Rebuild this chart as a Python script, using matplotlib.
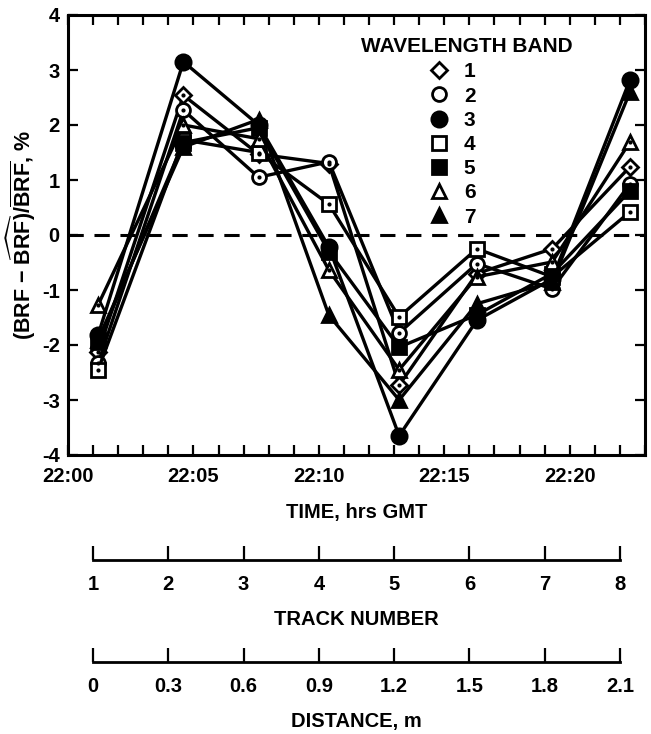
import matplotlib
matplotlib.use('Agg')
import matplotlib.pyplot as plt
from matplotlib.lines import Line2D
from matplotlib.ticker import FixedLocator, MultipleLocator

plt.rcParams['font.family'] = ['Liberation Sans', 'DejaVu Sans']
plt.rcParams['font.weight'] = 'bold'
plt.rcParams['axes.unicode_minus'] = False
plt.rcParams['mathtext.fontset'] = 'custom'
plt.rcParams['mathtext.rm'] = 'Liberation Sans:bold'
plt.rcParams['mathtext.bf'] = 'Liberation Sans:bold'
plt.rcParams['mathtext.it'] = 'Liberation Sans:bold'

# minutes after 22:00 at which each track was measured
times = [1.2, 4.6, 7.6, 10.4, 13.2, 16.3, 19.3, 22.4]

# (BRF - BRF^)/BRF, % per wavelength band
band1 = [-2.13, 2.54, 1.47, 1.30, -2.73, -0.70, -0.25, 1.24]
band2 = [-2.33, 2.27, 1.05, 1.33, -1.78, -0.52, -0.98, 0.93]
band3 = [-1.82, 3.15, 2.00, -0.22, -3.65, -1.55, -0.80, 2.82]
band4 = [-2.45, 1.73, 1.50, 0.56, -1.49, -0.25, -0.76, 0.42]
band5 = [-1.95, 1.68, 1.95, -0.30, -2.04, -1.45, -0.70, 0.80]
band6 = [-1.27, 2.00, 1.75, -0.64, -2.45, -0.76, -0.49, 1.69]
band7 = [-1.90, 1.60, 2.10, -1.46, -3.00, -1.25, -0.85, 2.60]

band_names = ['1', '2', '3', '4', '5', '6', '7']
time_ticks = [0, 5, 10, 15, 20]
time_labels = ['22:00', '22:05', '22:10', '22:15', '22:20']
track_pos = [1, 4, 7, 10, 13, 16, 19, 22]
track_labels = ['1', '2', '3', '4', '5', '6', '7', '8']
dist_labels = ['0', '0.3', '0.6', '0.9', '1.2', '1.5', '1.8', '2.1']

bands = [band1, band2, band3, band4, band5, band6, band7]
markers = ['D', 'o', 'o', 's', 's', '^', '^']
filled = [False, False, True, False, True, False, True]
sizes = [8.5, 10, 11, 10, 10, 10, 10]

W, H = 651, 734
fig = plt.figure(figsize=(W / 100, H / 100), dpi=100)
left, right = 68 / W, 645 / W
ax = fig.add_axes([left, 1 - 455 / H, right - left, 440 / H])

ax.axhline(0, color='k', lw=2.2, ls=(0, (5, 3.5)), zorder=1)

for vals, m, f, s in zip(bands, markers, filled, sizes):
    ax.plot(times, vals, color='k', lw=2.4, marker=m, ms=s,
            mfc='k' if f else 'white', mec='k', mew=2, zorder=2)
    if not f:
        # the open symbols carry a small centre dot in the original
        ax.plot(times, vals, ls='none', marker='o', ms=2, color='k', zorder=3)

ax.set_xlim(0, 23)
ax.set_ylim(-4, 4)
ax.xaxis.set_major_locator(FixedLocator(time_ticks))
ax.set_xticklabels(time_labels)
ax.xaxis.set_minor_locator(MultipleLocator(1))
ax.yaxis.set_major_locator(MultipleLocator(1))
ax.tick_params(which='both', direction='in', top=True, right=True,
               length=7, width=1.6, labelsize=14.5)
ax.tick_params(axis='x', pad=9)
ax.tick_params(axis='y', pad=6)
for sp in ax.spines.values():
    sp.set_linewidth(2.2)

ax.set_xlabel('TIME, hrs GMT', fontsize=14.5, fontweight='bold', labelpad=12)
ax.set_ylabel(r'(BRF $-$ $\widehat{\mathrm{BRF}}$)/$\overline{\mathrm{BRF}}$, %',
              fontsize=15.5, fontweight='bold', labelpad=3)

# legend: title as separate text so the entries can sit a bit left of it
fig.text(467 / W, 1 - 46 / H, 'WAVELENGTH BAND', ha='center', va='center',
         fontsize=15, fontweight='bold')
handles = []
for m, f, s in zip(markers, filled, sizes):
    handles.append(Line2D([], [], ls='none', marker=m, ms=s, mew=2, mec='k',
                          mfc='k' if f else 'white'))
ax.legend(handles, band_names, frameon=False,
          loc='upper center', bbox_to_anchor=(452 / W, 1 - 52 / H),
          bbox_transform=fig.transFigure, fontsize=15,
          handlelength=1.0, handletextpad=0.7, labelspacing=0.25,
          borderpad=0)


def scale_axis(ypix, labels, title):
    # bare ruler under the plot, sharing the time scale of the main axes
    sa = fig.add_axes([left, 1 - ypix / H, right - left, 0.001])
    sa.set_xlim(ax.get_xlim())
    sa.set_ylim(0, 1)
    sa.patch.set_visible(False)
    for name in ['top', 'left', 'right']:
        sa.spines[name].set_visible(False)
    sa.spines['bottom'].set_bounds(track_pos[0], track_pos[-1])
    sa.spines['bottom'].set_linewidth(2)
    sa.set_yticks([])
    sa.set_xticks(track_pos)
    sa.set_xticklabels(labels)
    sa.tick_params(axis='x', direction='in', length=10, width=1.6,
                   labelsize=14.5, pad=11)
    sa.set_xlabel(title, fontsize=14.5, fontweight='bold', labelpad=11)
    return sa


scale_axis(560, track_labels, 'TRACK NUMBER')
scale_axis(662, dist_labels, 'DISTANCE, m')

fig.savefig('out.png', dpi=100)
